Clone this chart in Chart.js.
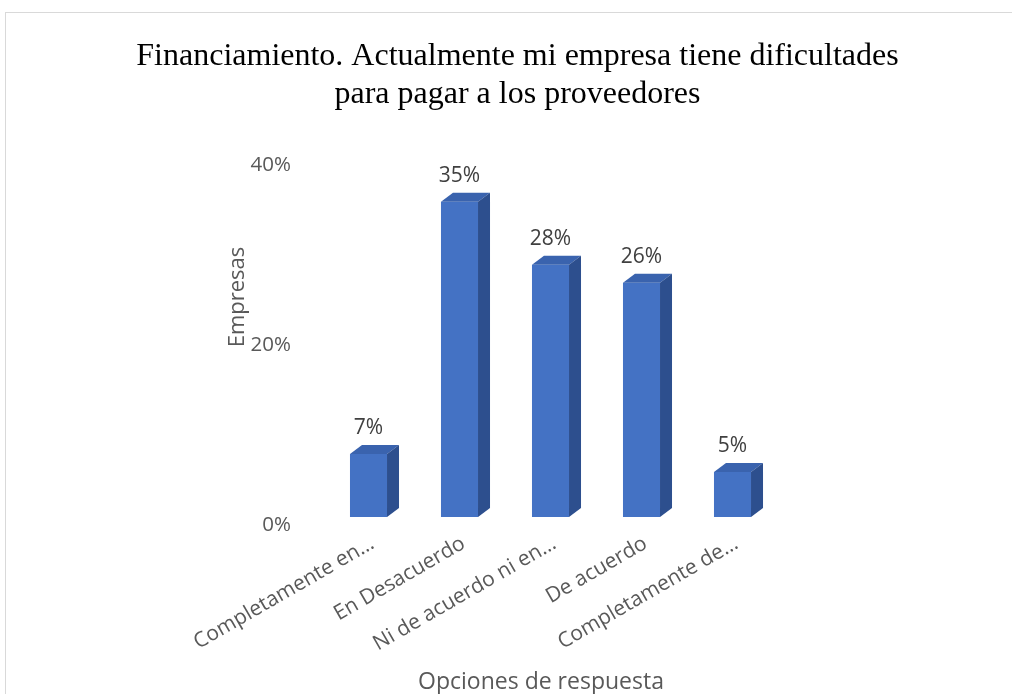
<!DOCTYPE html>
<html>
<head>
<meta charset="utf-8">
<script src="https://cdn.jsdelivr.net/npm/chart.js@4.4.1/dist/chart.umd.min.js"></script>
<style>
  html, body { margin: 0; padding: 0; background: #fff; }
</style>
</head>
<body>
<canvas id="chart" width="1012" height="694"></canvas>
<script>
// Survey answers and share of companies for each one
const categories = ["Completamente en…", "En Desacuerdo", "Ni de acuerdo ni en…", "De acuerdo", "Completamente de…"];
const shares = [0.07, 0.35, 0.28, 0.26, 0.05];
const yTicks = [0, 0.2, 0.4];

const FRONT = "#4472C4";
const TOP = "#3A63AE";
const SIDE = "#2D4F8E";
const DEPTH_X = 12;
const DEPTH_Y = 9;
const TEXT = "#595959";
const SANS = "Open Sans";

const pct = (v) => Math.round(v * 100) + "%";

// light frame around the whole chart
const frame = {
  id: "frame",
  beforeDraw(chart) {
    const ctx = chart.ctx;
    ctx.save();
    ctx.fillStyle = "#fff";
    ctx.fillRect(0, 0, chart.width, chart.height);
    ctx.strokeStyle = "#d9d9d9";
    ctx.lineWidth = 1;
    ctx.strokeRect(5.5, 12.5, chart.width + 20, chart.height + 20);
    ctx.restore();
  },
};

// top and side faces so the bars look like boxes
const bars3d = {
  id: "bars3d",
  afterDatasetsDraw(chart) {
    const ctx = chart.ctx;
    chart.getDatasetMeta(0).data.forEach((bar) => {
      const { x, y, base, width } = bar.getProps(["x", "y", "base", "width"], true);
      const l = x - width / 2;
      const r = x + width / 2;
      ctx.save();
      ctx.fillStyle = TOP;
      ctx.beginPath();
      ctx.moveTo(l, y);
      ctx.lineTo(l + DEPTH_X, y - DEPTH_Y);
      ctx.lineTo(r + DEPTH_X, y - DEPTH_Y);
      ctx.lineTo(r, y);
      ctx.closePath();
      ctx.fill();
      ctx.fillStyle = SIDE;
      ctx.beginPath();
      ctx.moveTo(r, y);
      ctx.lineTo(r + DEPTH_X, y - DEPTH_Y);
      ctx.lineTo(r + DEPTH_X, base - DEPTH_Y);
      ctx.lineTo(r, base);
      ctx.closePath();
      ctx.fill();
      ctx.restore();
    });
  },
};

// percentage above each bar
const valueLabels = {
  id: "valueLabels",
  afterDatasetsDraw(chart) {
    const ctx = chart.ctx;
    const values = chart.data.datasets[0].data;
    ctx.save();
    ctx.font = "21px '" + SANS + "'";
    ctx.fillStyle = "#404040";
    ctx.textAlign = "center";
    ctx.textBaseline = "middle";
    chart.getDatasetMeta(0).data.forEach((bar, i) => {
      ctx.fillText(pct(values[i]), bar.x, bar.y - 26);
    });
    ctx.restore();
  },
};

// axis titles, placed by hand (both sit slightly off the axis centre)
const axisTitles = {
  id: "axisTitles",
  afterDraw(chart) {
    const ctx = chart.ctx;
    ctx.save();
    ctx.fillStyle = TEXT;
    ctx.textAlign = "center";
    ctx.textBaseline = "middle";
    ctx.font = "23px '" + SANS + "'";
    ctx.fillText("Opciones de respuesta", 541, 682);
    ctx.translate(238, 297);
    ctx.rotate(-Math.PI / 2);
    ctx.font = "22px '" + SANS + "'";
    ctx.fillText("Empresas", 0, 0);
    ctx.restore();
  },
};

new Chart(document.getElementById("chart"), {
  type: "bar",
  data: {
    labels: categories,
    datasets: [
      {
        data: shares,
        backgroundColor: FRONT,
        barPercentage: 0.407,
        categoryPercentage: 1,
      },
    ],
  },
  options: {
    responsive: false,
    animation: false,
    layout: { padding: { left: 23, right: 0, top: 0, bottom: 0 } },
    plugins: {
      legend: { display: false },
      tooltip: { enabled: false },
      title: {
        display: true,
        text: ["Financiamiento. Actualmente mi empresa tiene dificultades", "para pagar a los proveedores"],
        color: "#000",
        font: { family: "Liberation Serif", size: 32, weight: "normal", lineHeight: 1.2 },
        padding: { top: 37, bottom: 43 },
      },
    },
    scales: {
      x: {
        grid: { display: false, drawTicks: false },
        border: { display: false },
        ticks: {
          autoSkip: false,
          minRotation: 30,
          maxRotation: 30,
          padding: 14,
          labelOffset: 4,
          color: TEXT,
          font: { family: SANS, size: 21 },
        },
        afterFit(s) {
          s.height = 177;
        },
      },
      y: {
        min: 0,
        max: 0.4,
        afterBuildTicks(s) {
          s.ticks = yTicks.map((v) => ({ value: v }));
        },
        grid: { display: false, drawTicks: false },
        border: { display: false },
        ticks: {
          padding: 32,
          labelOffset: 8,
          color: TEXT,
          font: { family: SANS, size: 20.5 },
          callback: (v) => pct(v),
        },
        afterFit(s) {
          s.width = 300;
        },
      },
      // empty right-hand axis, only reserves space beside the plot
      pad: {
        position: "right",
        grid: { display: false, drawTicks: false },
        border: { display: false },
        ticks: { display: false },
        afterFit(s) {
          s.width = 234;
        },
      },
    },
  },
  plugins: [frame, bars3d, valueLabels, axisTitles],
});
</script>
</body>
</html>
